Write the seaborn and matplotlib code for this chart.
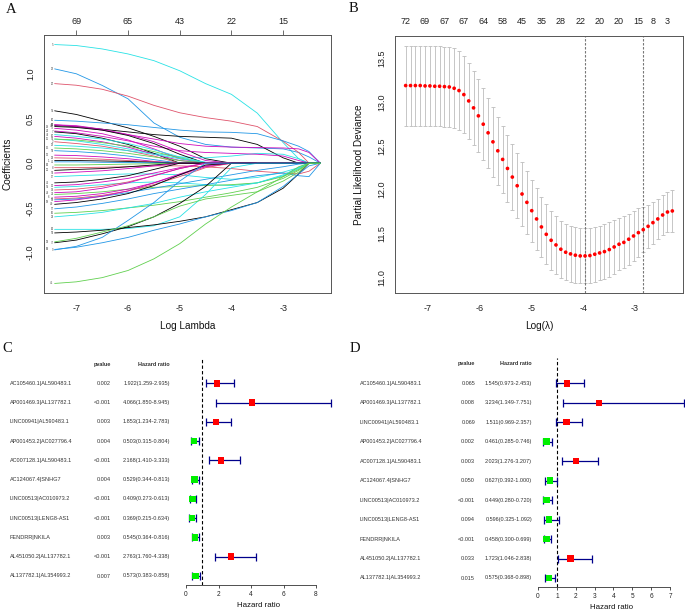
import numpy as np
import pandas as pd
import matplotlib
matplotlib.use("Agg")
import matplotlib.pyplot as plt
import matplotlib.transforms as mtransforms
import seaborn as sns

# ---- panel A: lasso coefficient paths (values read at these log-lambda points) ----
lam_grid = [-7.42, -7.0, -6.5, -6.0, -5.5, -5.0, -4.5, -4.0, -3.5, -3.0, -2.7, -2.5, -2.28]
top_a_ticks = [-7, -6, -5, -4, -3]
top_a_labels = ["69", "65", "43", "22", "15"]

path_labels = ["5", "28", "20", "55", "60", "41", "33", "11", "24", "66",
               "19", "72", "7", "47", "36", "51", "2", "29", "15", "58",
               "12", "38", "1", "46", "63", "8", "25", "54", "17", "43",
               "30", "59", "14", "48", "21", "6", "70", "35", "18", "40",
               "57", "16", "32", "62", "52", "77", "68", "9", "39", "45"]
path_colors = ["c", "b", "r", "k", "b", "k", "m", "c", "m", "m",
               "k", "m", "k", "c", "m", "g", "r", "c", "g", "b",
               "m", "r", "k", "b", "g", "r", "k", "m", "c", "k",
               "m", "c", "r", "m", "g", "m", "r", "b", "m", "k",
               "b", "g", "c", "c", "k", "k", "b", "b", "g", "g"]
# trailing values not listed are zero (variable has left the model)
coef_paths = [
    [1.327, 1.316, 1.278, 1.222, 1.147, 1.034, 0.89, 0.77, 0.56, 0.23, 0.05],
    [1.055, 1.0, 0.87, 0.72, 0.45, 0.29, 0.21, 0.18, 0.17, 0.16, 0.12, 0.07],
    [0.89, 0.872, 0.827, 0.75, 0.647, 0.564, 0.51, 0.47, 0.41, 0.245, 0.12],
    [0.586, 0.545, 0.47, 0.395, 0.30, 0.19, 0.05],
    [0.48, 0.47, 0.45, 0.43, 0.40, 0.37, 0.35, 0.345, 0.33, 0.25, 0.19, 0.13],
    [0.42, 0.41, 0.38, 0.35, 0.32, 0.30, 0.29, 0.28, 0.21, 0.06],
    [0.43, 0.41, 0.37, 0.32, 0.27, 0.22, 0.19, 0.18, 0.175, 0.17, 0.16, 0.12],
    [0.27, 0.25, 0.21, 0.16, 0.11, 0.07, 0.06, 0.08, 0.11, 0.10, 0.05],
    [0.36, 0.34, 0.30, 0.25, 0.19, 0.14, 0.12, 0.11, 0.10, 0.08, 0.03],
    [0.43, 0.42, 0.38, 0.32, 0.24, 0.13, 0.03],
    [0.41, 0.40, 0.37, 0.31, 0.22, 0.10],
    [0.39, 0.37, 0.33, 0.26, 0.16, 0.05],
    [0.35, 0.33, 0.28, 0.21, 0.11],
    [0.32, 0.30, 0.27, 0.22, 0.15, 0.07, 0.01],
    [0.30, 0.28, 0.24, 0.18, 0.10, 0.03],
    [0.27, 0.26, 0.23, 0.19, 0.13, 0.06],
    [0.24, 0.22, 0.19, 0.14, 0.08],
    [0.20, 0.19, 0.17, 0.14, 0.10, 0.05, 0.01],
    [0.17, 0.16, 0.14, 0.11, 0.07, 0.03],
    [0.14, 0.13, 0.11, 0.08, 0.04],
    [0.09, 0.085, 0.07, 0.05, 0.02],
    [0.06, 0.055, 0.045, 0.03, 0.015],
    [0.03, 0.03, 0.025, 0.02, 0.01],
    [0.015, 0.015, 0.01, 0.008, 0.004],
    [-0.02, -0.02, -0.015, -0.01, -0.005],
    [-0.05, -0.05, -0.045, -0.04, -0.03, -0.03, -0.04, -0.06, -0.09, -0.11, -0.12, -0.09],
    [-0.08, -0.07, -0.06, -0.04, -0.02],
    [-0.11, -0.10, -0.085, -0.06, -0.03],
    [-0.15, -0.14, -0.13, -0.12, -0.12, -0.13, -0.16, -0.18, -0.16, -0.10, -0.05],
    [-0.22, -0.21, -0.18, -0.14, -0.07],
    [-0.25, -0.24, -0.21, -0.17, -0.11, -0.05],
    [-0.27, -0.26, -0.24, -0.22, -0.21, -0.22, -0.24, -0.25, -0.22, -0.14, -0.06],
    [-0.30, -0.29, -0.26, -0.21, -0.14, -0.06],
    [-0.33, -0.32, -0.28, -0.22, -0.14, -0.06],
    [-0.35, -0.34, -0.32, -0.29, -0.27, -0.26, -0.25, -0.24, -0.22, -0.15, -0.07],
    [-0.38, -0.37, -0.34, -0.29, -0.22, -0.13, -0.04],
    [-0.40, -0.39, -0.36, -0.31, -0.24, -0.15, -0.05],
    [-0.41, -0.40, -0.37, -0.33, -0.28, -0.23, -0.18, -0.13, -0.08, -0.04, -0.01],
    [-0.43, -0.41, -0.37, -0.31, -0.22, -0.12, -0.03],
    [-0.46, -0.44, -0.40, -0.34, -0.25, -0.13, -0.02],
    [-0.51, -0.49, -0.45, -0.40, -0.34, -0.29, -0.24, -0.19, -0.14, -0.11, -0.14, -0.15],
    [-0.56, -0.55, -0.53, -0.50, -0.47, -0.43, -0.38, -0.33, -0.27, -0.17, -0.08],
    [-0.60, -0.58, -0.55, -0.50, -0.45, -0.38, -0.32, -0.27, -0.22, -0.13, -0.05],
    [-0.74, -0.74, -0.74, -0.73, -0.70, -0.60, -0.35, -0.05],
    [-0.78, -0.77, -0.75, -0.72, -0.69, -0.65, -0.60, -0.52, -0.44, -0.28, -0.12],
    [-0.89, -0.86, -0.79, -0.71, -0.60, -0.45, -0.26],
    [-0.965, -0.94, -0.89, -0.83, -0.75, -0.68, -0.60, -0.53, -0.44, -0.26, -0.12, -0.03],
    [-0.97, -0.93, -0.83, -0.64, -0.44, -0.20],
    [-0.88, -0.84, -0.77, -0.70, -0.60, -0.48, -0.40, -0.36, -0.32, -0.20, -0.10],
    [-1.345, -1.327, -1.28, -1.20, -1.07, -0.90, -0.68, -0.49, -0.32, -0.15, -0.04],
]

# ---- panel B: cross-validation curve ----
cv_lam_start, cv_lam_end, cv_n = -7.417, -2.283, 56
cv_mean = [13.186, 13.186, 13.186, 13.186, 13.182, 13.182, 13.178, 13.178, 13.174, 13.170,
           13.155, 13.129, 13.083, 13.011, 12.932, 12.841, 12.746, 12.648, 12.545, 12.443,
           12.345, 12.242, 12.144, 12.045, 11.951, 11.856, 11.761, 11.667, 11.576, 11.492,
           11.424, 11.371, 11.322, 11.288, 11.269, 11.254, 11.246, 11.246, 11.250, 11.265,
           11.280, 11.295, 11.318, 11.348, 11.379, 11.400, 11.436, 11.473, 11.511, 11.545,
           11.583, 11.625, 11.667, 11.712, 11.746, 11.758]
cv_se = [0.456, 0.456, 0.456, 0.456, 0.456, 0.455, 0.455, 0.455, 0.455, 0.455,
         0.458, 0.451, 0.439, 0.430, 0.424, 0.417, 0.409, 0.398, 0.396, 0.388,
         0.384, 0.381, 0.379, 0.371, 0.369, 0.360, 0.354, 0.350, 0.345, 0.341,
         0.335, 0.331, 0.322, 0.322, 0.320, 0.316, 0.314, 0.314, 0.311, 0.313,
         0.311, 0.311, 0.309, 0.303, 0.299, 0.295, 0.292, 0.286, 0.275, 0.256,
         0.245, 0.240, 0.232, 0.228, 0.233, 0.235]
idx_min, idx_1se = 37, 49
top_b_idx = [0, 4, 8, 12, 16, 20, 24, 28, 32, 36, 40, 44, 48, 51, 54]
top_b_labels = ["72", "69", "67", "67", "64", "58", "45", "35", "28", "22",
                "20", "20", "15", "8", "3"]

# ---- panels C/D: Cox regression ----
genes = ["AC105460.1|AL590483.1", "AP001469.3|AL137782.1", "LINC00941|AL590483.1",
         "AP001453.2|AC027796.4", "AC007128.1|AL590483.1", "AC124067.4|SNHG7",
         "LINC00513|AC010973.2", "LINC00513|LENG8-AS1", "FENDRR|NKILA",
         "AL451050.2|AL137782.1", "AL137782.1|AL354993.2"]
uni_p = ["0.002", "<0.001", "0.003", "0.004", "<0.001", "0.004", "<0.001", "<0.001",
         "0.003", "<0.001", "0.007"]
uni_hr = [1.922, 4.066, 1.853, 0.503, 2.168, 0.529, 0.409, 0.369, 0.545, 2.763, 0.573]
uni_lo = [1.259, 1.850, 1.234, 0.315, 1.410, 0.344, 0.273, 0.215, 0.364, 1.760, 0.383]
uni_hi = [2.935, 8.945, 2.783, 0.804, 3.333, 0.813, 0.613, 0.634, 0.816, 4.338, 0.858]
multi_p = ["0.065", "0.008", "0.069", "0.002", "0.003", "0.050", "<0.001", "0.094",
           "<0.001", "0.033", "0.015"]
multi_hr = [1.545, 3.234, 1.511, 0.461, 2.023, 0.627, 0.449, 0.596, 0.458, 1.723, 0.575]
multi_lo = [0.973, 1.349, 0.969, 0.285, 1.276, 0.392, 0.280, 0.325, 0.300, 1.046, 0.368]
multi_hi = [2.453, 7.751, 2.357, 0.746, 3.207, 1.000, 0.720, 1.092, 0.699, 2.838, 0.898]

R_COLS = {"k": "#000000", "r": "#DF536B", "g": "#61D04F", "b": "#2297E6",
          "c": "#28E2E5", "m": "#CD0BBC"}

sns.set_theme(style="white")
plt.rcParams["font.family"] = ["Liberation Sans", "DejaVu Sans"]
plt.rcParams["axes.unicode_minus"] = False

W, H = 685, 610
fig = plt.figure(figsize=(W / 100, H / 100), dpi=100)
fig.patch.set_facecolor("white")


def px_axes(x0, y0, x1, y1):
    return fig.add_axes([x0 / W, 1 - y1 / H, (x1 - x0) / W, (y1 - y0) / H])


def r_style(ax):
    for s in ax.spines.values():
        s.set_color("#555555")
        s.set_linewidth(0.7)
    ax.tick_params(direction="out", length=3.5, width=0.6, color="#555555",
                   labelsize=6.5, labelcolor="#222222", pad=3)
    ax.tick_params(axis="x", pad=4.5)
    for lab in ax.get_yticklabels():
        lab.set_rotation(90)
        lab.set_va("center")


def pad_lim(lo, hi, f=0.04):
    r = hi - lo
    return lo - f * r, hi + f * r


# ---------------- A ----------------
ax_a = px_axes(44, 35, 331, 293)
rows = []
for i, vals in enumerate(coef_paths):
    full = list(vals) + [0.0] * (len(lam_grid) - len(vals))
    for x, v in zip(lam_grid, full):
        rows.append((i, x, v))
df_a = pd.DataFrame(rows, columns=["path", "loglam", "coef"])
pal_a = {i: R_COLS[c] for i, c in enumerate(path_colors)}
sns.lineplot(data=df_a, x="loglam", y="coef", hue="path", palette=pal_a,
             estimator=None, sort=False, legend=False, linewidth=0.6, ax=ax_a)

# variable labels at the left end of each path, staggered in two columns where crowded
order = sorted(range(len(coef_paths)), key=lambda j: coef_paths[j][0])
last_y = {0: -9.0, 1: -9.0}
for j in order:
    y0 = coef_paths[j][0]
    col = 0 if y0 - last_y[0] > 0.038 else (1 if y0 - last_y[1] > 0.038 else 0)
    last_y[col] = y0
    ax_a.text(lam_grid[0] - 0.02 - 0.085 * col, y0, path_labels[j], fontsize=2.0,
              ha="right", va="center", color="#444444")
ax_a.set_xlim(*pad_lim(min(lam_grid), max(lam_grid)))
ax_a.set_ylim(*pad_lim(df_a["coef"].min(), df_a["coef"].max()))
ax_a.set_xticks([-7, -6, -5, -4, -3])
ax_a.set_yticks([-1.0, -0.5, 0.0, 0.5, 1.0])
ax_a.set_yticklabels(["-1.0", "-0.5", "0.0", "0.5", "1.0"])
r_style(ax_a)
ax_a.set_xlabel("Log Lambda", fontsize=7.2, labelpad=6, color="#111111")
ax_a.set_ylabel("Coefficients", fontsize=7.2, labelpad=10, color="#111111")
sec_a = ax_a.secondary_xaxis("top")
sec_a.set_xticks(top_a_ticks, labels=top_a_labels)
sec_a.tick_params(direction="out", length=3.5, width=0.6, color="#555555",
                  labelsize=6.5, labelcolor="#222222", pad=3)
sec_a.spines["top"].set_visible(False)

# ---------------- B ----------------
ax_b = px_axes(395, 36, 683, 293)
cv_lam = np.linspace(cv_lam_start, cv_lam_end, cv_n)
df_b = pd.DataFrame({"loglam": cv_lam, "cvm": cv_mean, "se": cv_se})
ax_b.errorbar(df_b["loglam"], df_b["cvm"], yerr=df_b["se"], fmt="none",
              ecolor="#BDBDBD", elinewidth=0.6, capsize=1.7, capthick=0.6, zorder=1)
sns.scatterplot(data=df_b, x="loglam", y="cvm", color="red", s=7,
                edgecolor="none", ax=ax_b, zorder=3)
for k in (idx_min, idx_1se):
    ax_b.axvline(cv_lam[k], color="#777777", lw=0.8, ls=(0, (2.2, 1.4)), zorder=2)
ax_b.set_xlim(*pad_lim(cv_lam.min(), cv_lam.max()))
ax_b.set_ylim(*pad_lim((df_b["cvm"] - df_b["se"]).min(), (df_b["cvm"] + df_b["se"]).max()))
ax_b.set_xticks([-7, -6, -5, -4, -3])
ax_b.set_yticks([11.0, 11.5, 12.0, 12.5, 13.0, 13.5])
ax_b.set_yticklabels(["11.0", "11.5", "12.0", "12.5", "13.0", "13.5"])
r_style(ax_b)
ax_b.set_xlabel("Log(λ)", fontsize=7.2, labelpad=6, color="#111111")
ax_b.set_ylabel("Partial Likelihood Deviance", fontsize=7.2, labelpad=9, color="#111111")
sec_b = ax_b.secondary_xaxis("top")
sec_b.set_xticks(cv_lam[top_b_idx], labels=top_b_labels)
sec_b.tick_params(length=0, labelsize=6.5, labelcolor="#222222", pad=7)
sec_b.spines["top"].set_visible(False)


# ---------------- C / D ----------------
def forest(x_zero, ppu, y_row1, y_row_last, y_top, y_axis, x_name, x_p, x_hr,
           p, hr, lo, hi, last_tick):
    n = len(genes)
    xl = pad_lim(0, max(hi))
    ax = px_axes(x_zero + xl[0] * ppu, y_top, x_zero + xl[1] * ppu, y_axis)
    ppy = (y_row_last - y_row1) / (n - 1)
    ax.set_xlim(*xl)
    ax.set_ylim(1 - (y_axis - y_row_last) / ppy, n + (y_row1 - y_top) / ppy)
    ypos = np.arange(n, 0, -1)
    df = pd.DataFrame({"gene": genes, "hr": hr, "lo": lo, "hi": hi, "y": ypos})
    df["risk"] = np.where(df["hr"] > 1, "high", "low")
    ax.axvline(1, color="black", lw=0.8, ls=(0, (3, 2)), zorder=1)
    ax.errorbar(df["hr"], df["y"], xerr=[df["hr"] - df["lo"], df["hi"] - df["hr"]],
                fmt="none", ecolor="darkblue", elinewidth=0.9, capsize=3.2,
                capthick=0.9, zorder=2)
    sns.scatterplot(data=df, x="hr", y="y", hue="risk",
                    palette={"high": "red", "low": "#00EE00"}, marker="s", s=22,
                    edgecolor="none", legend=False, ax=ax, zorder=3)
    for s in ("left", "top", "right"):
        ax.spines[s].set_visible(False)
    ax.spines["bottom"].set_color("#333333")
    ax.spines["bottom"].set_linewidth(0.6)
    ax.spines["bottom"].set_bounds(0, last_tick)
    ticks = list(range(0, last_tick + 1, 2 if last_tick == 8 else 1))
    ax.set_xticks(ticks)
    ax.set_yticks([])
    ax.tick_params(axis="x", direction="out", length=2.5, width=0.6, color="#333333",
                   labelsize=4.7, labelcolor="#222222", pad=1.5, bottom=True)
    ax.set_xlabel("Hazard ratio", fontsize=5.7, labelpad=3, color="#111111")
    ax.set_ylabel("")
    tr = mtransforms.blended_transform_factory(fig.transFigure, ax.transData)
    kw = dict(transform=tr, fontsize=4.0, va="center", color="#333333", clip_on=False)
    ax.text(x_p / W, n + 1, "pvalue", ha="right", fontweight="bold", **kw)
    ax.text(x_hr / W, n + 1, "Hazard ratio", ha="right", fontweight="bold", **kw)
    for i in range(n):
        ax.text(x_name / W, ypos[i], genes[i], ha="left", **kw)
        ax.text(x_p / W, ypos[i], p[i], ha="right", **kw)
        ax.text(x_hr / W, ypos[i], f"{hr[i]:.3f}({lo[i]:.3f}-{hi[i]:.3f})",
                ha="right", **kw)
    return ax


forest(186, 16.25, 383.3, 576, 358.3, 585, 10, 111, 170,
       uni_p, uni_hr, uni_lo, uni_hi, 8)
forest(538, 18.86, 383.3, 578, 358.3, 587.3, 360, 475, 532,
       multi_p, multi_hr, multi_lo, multi_hi, 7)

for lab, x, y in [("A", 11.5, 9.5), ("B", 353.5, 8), ("C", 7, 349), ("D", 355, 349)]:
    fig.text(x / W, 1 - y / H, lab, fontsize=10.5, family="Liberation Serif",
             ha="center", va="center", color="#111111")

fig.savefig("out.png", dpi=100, facecolor="white")
